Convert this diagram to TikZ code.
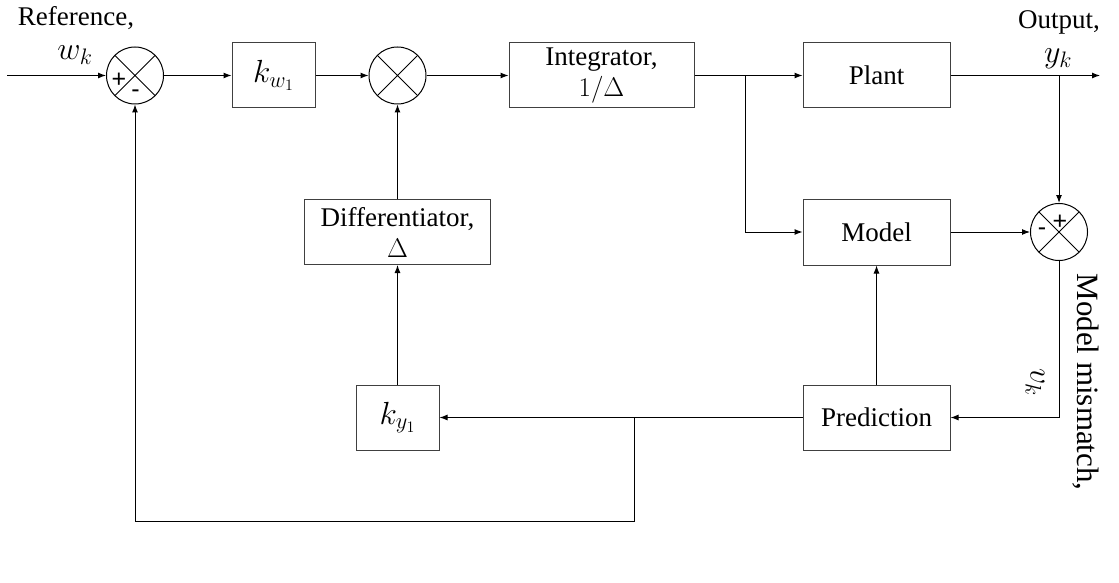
\RequirePackage{fix-cm}
\documentclass[tikz,border=0pt]{standalone}
\usepackage{fontspec}
\setmainfont{Liberation Serif}
\newfontfamily\signfont{Liberation Sans}
\usetikzlibrary{arrows.meta,positioning,calc}
\tikzset{
  >={Latex[length=8pt,width=6pt]},
  every picture/.append style={line width=1pt},
  every node/.append style={font=\fontsize{27}{31}\selectfont},
}
\tikzset{
  block/.style={draw=black!75, align=center, inner sep=2pt, minimum height=65pt},
  sumjn/.style={draw, circle, minimum size=57pt, inner sep=0pt,
    path picture={\draw (path picture bounding box.south west) -- (path picture bounding box.north east)
      (path picture bounding box.north west) -- (path picture bounding box.south east);}},
  sign/.style={font=\signfont\fontsize{25}{25}\selectfont, inner sep=0pt},
  mathlbl/.style={font=\fontsize{32}{36}\selectfont}
}
\begin{document}
\begin{tikzpicture}[x=1pt, y=-1pt]
\useasboundingbox (0,0) rectangle (1119,583);

% Forward path
\node[sumjn] (s1) at (135,75.5) {};
\node[block, mathlbl, minimum width=83pt] (kw) at (273.5,75.5) {$k_{w_1}$};
\node[sumjn] (s2) at (397.5,75.5) {};
\node[block, minimum width=185pt] (int) at (601.5,75.5) {Integrator,\\$1/\Delta$};
\node[block, minimum width=147pt] (plant) at (876.5,75.5) {Plant};

% Model and prediction
\node[block, minimum width=147pt, minimum height=66pt] (model) at (876.5,232) {Model};
\node[sumjn] (s3) at (1059,232) {};
\node[block, minimum width=147pt] (pred) at (876.5,417.5) {Prediction};

% Feedback blocks
\node[block, mathlbl, minimum width=83pt] (ky) at (397.5,417.5) {$k_{y_1}$};
\node[block, minimum width=186pt] (diff) at (397.5,232) {Differentiator,\\$\Delta$};

% Signs in the junctions
\node[sign] (p1) at ($(s1.center)+(-16,4.5)$) {+};
\node[sign] (m1) at ($(s1.center)+(0.5,18)$) {-};
\node[sign] (p3) at ($(s3.center)+(1,-10)$) {+};
\node[sign] (m3) at ($(s3.center)+(-17,0)$) {-};

% Signal labels
\node (ref) at (76,18) {Reference,};
\node[mathlbl] (wk) at (75,55) {$w_k$};
\node (outlbl) at (1059,22) {Output,};
\node[mathlbl] (yk) at (1058,59) {$y_k$};
\node[mathlbl, rotate=-90] (vk) at (1035,382) {$v_k$};
\node[rotate=-90, font=\fontsize{31}{35}\selectfont] (mism) at (1086,382) {Model mismatch,};

% Branch points
\coordinate (in) at (7,75.5);
\coordinate (out) at (1100,75.5);
\coordinate (br1) at (745,75.5);
\coordinate (br2) at (1059,75.5);
\coordinate (br3) at (634,417.5);
\coordinate (lowL) at (135,521);

% Connectors
\draw[->] (in) -- (s1.west);
\draw[->] (s1) -- (kw);
\draw[->] (kw) -- (s2);
\draw[->] (s2) -- (int);
\draw[->] (int) -- (plant);
\draw[->] (plant) -- (out);
\draw[->] (br1) |- (model.west);
\draw[->] (br2) -- (s3.north);
\draw[->] (model) -- (s3);
\draw[->] (s3.south) |- (pred.east);
\draw[->] (pred) -- (model);
\draw[->] (pred) -- (ky);
\draw[->] (ky) -- (diff);
\draw[->] (diff) -- (s2);
\draw[->] (br3) |- (lowL) -- (s1.south);

\end{tikzpicture}
\end{document}
